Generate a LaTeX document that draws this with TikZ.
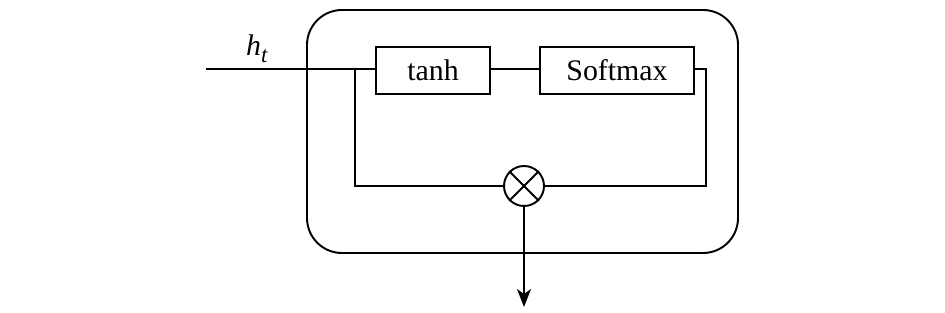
\documentclass[tikz,border=0pt]{standalone}
\usepackage{fontspec}
\setmainfont{Liberation Serif}
\usetikzlibrary{arrows.meta}
\tikzset{
  box/.style={draw,line width=1.1pt,minimum width=2.28cm,minimum height=0.94cm,inner sep=0pt,font=\fontsize{17}{20}\selectfont},
  wire/.style={line width=1.1pt}
}
\begin{document}
\begin{tikzpicture}[x=0.02cm,y=-0.02cm]
\useasboundingbox (0,0) rectangle (945,313);

\draw[wire,rounded corners=0.7cm] (307,10) rectangle (738,253);

\node[box] (tanh) at (433,70.5) {tanh};
\node[box,minimum width=3.08cm] (soft) at (617,70.5) {Softmax};
\node[draw,wire,circle,minimum size=0.8cm,inner sep=0pt] (mul) at (524,186) {};
\draw[wire] (mul.north west) -- (mul.south east);
\draw[wire] (mul.north east) -- (mul.south west);

\coordinate (in) at (206,69);
\coordinate (out) at (524,307);
\node[font=\fontsize{17}{20}\selectfont\itshape,anchor=base west] (ht) at (240,56) {h\raisebox{-0.45ex}{\fontsize{13}{15}\selectfont t}};

\draw[wire] (in) -- (tanh.west |- in);
\draw[wire] (tanh.east |- in) -- (soft.west |- in);
\draw[wire] (355,69) |- (mul.west);
\draw[wire] (soft.east |- in) -| (706,186) -- (mul.east);

\draw[wire,-{Stealth[length=3.6mm,width=2.8mm,inset=1mm]}] (mul.south) -- (out);

\end{tikzpicture}
\end{document}
